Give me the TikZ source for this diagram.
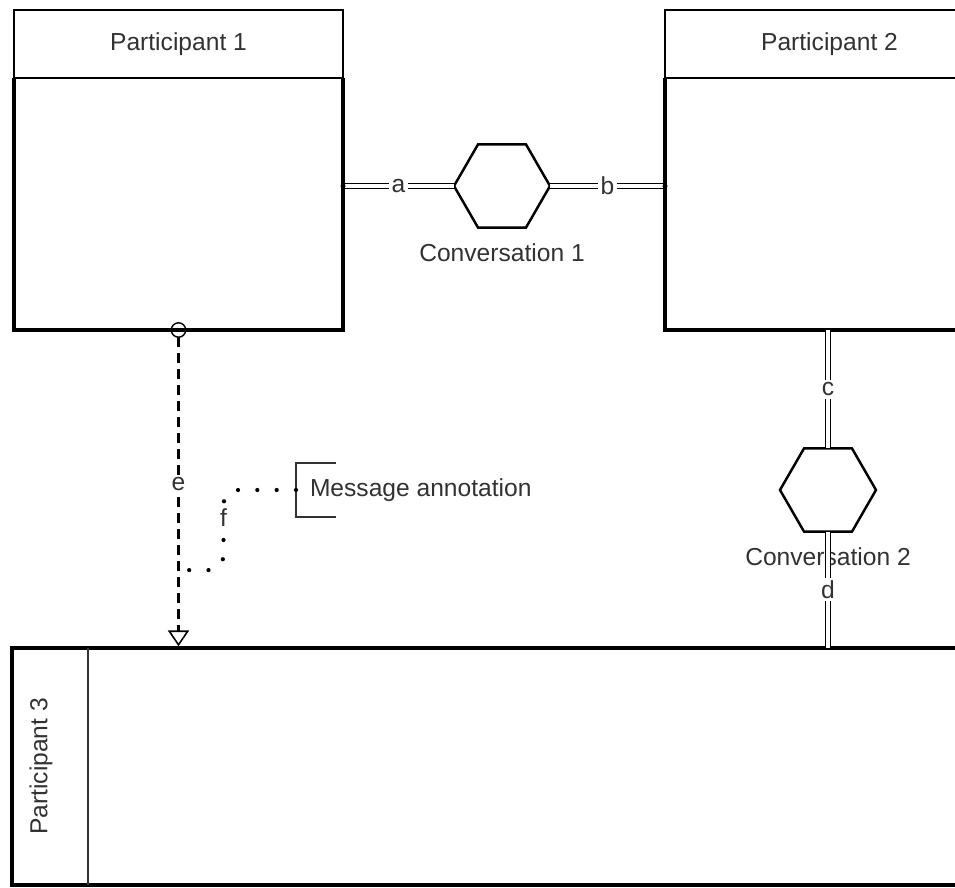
\documentclass[tikz,border=0pt]{standalone}
\usepackage{fontspec}
\setmainfont{Liberation Sans}
\usepackage{xcolor}
\usepackage{tikz}
\usetikzlibrary{positioning, quotes}
\usetikzlibrary{arrows.meta,shapes,calc}
\definecolor{labelgray}{RGB}{50,50,50}

\begin{document}
\begin{tikzpicture}
        [
        every node/.style = {font=\fontsize{14}{16}\selectfont, text=labelgray, inner sep=0pt, outer sep=0pt},
        every edge quotes/.style = {fill=white, inner sep=1.5pt},
        header/.style = {draw, line width=1.4pt, anchor=north west, minimum width=6.58cm, minimum height=1.36cm},
        body/.style = {minimum width=6.58cm, minimum height=5.04cm},
        pool/.style = {line width=2.6pt},
        conv/.style = {draw, regular polygon, regular polygon sides=6, minimum size=1.92cm, line width=1.4pt},
        convlink/.style = {draw, double=white, double distance=2.4pt, line width=0.7pt},
        msgflow/.style = {draw, line width=1.3pt, dash pattern=on 5.7pt off 3.4pt,
            arrows={Circle[open, length=9pt, line width=0.8pt]-Triangle[open, length=9pt, width=12pt, line width=0.9pt]}},
        assoc/.style = {line width=2.4pt, line cap=round, dash pattern=on 0pt off 11pt}
        ]
    \useasboundingbox (0,0) rectangle (19.1,-17.76);
    \clip (0,0) rectangle (19.1,-17.76);

    \node[header] (p1head) at (0.28,-0.2) {Participant 1};
    \node[body, below=0pt of p1head] (p1) {};
    \node[header] (p2head) at (13.3,-0.2) {Participant 2};
    \node[body, below=0pt of p2head] (p2) {};
    \node[draw, pool, anchor=north west, minimum width=20cm, minimum height=4.74cm] (p3) at (0.24,-12.96) {};
    \node[rotate=90, anchor=north west, minimum width=4.74cm, minimum height=1.52cm] (p3head) at (p3.south west) {};
    \node[rotate=90] (p3lbl) at ([xshift=-0.18cm]p3head.center) {Participant 3};

    \node[conv] (conv1) at (10.04,-3.72) {};
    \node[below=0.32cm of conv1] (conv1lbl) {Conversation 1};
    \node[conv] (conv2) at (16.56,-9.8) {};
    \node[below=0.32cm of conv2] (conv2lbl) {Conversation 2};

    \node[anchor=west, minimum height=1.08cm, inner xsep=0.28cm] (note) at (5.92,-9.8) {Message annotation};

    \draw[pool] (p1.north west) |- (p1.south east) -- (p1.north east);
    \draw[pool] (p2.north east) |- (p2.south west) -- (p2.north west);
    \draw[line width=1pt, labelgray] (p3head.south west) -- (p3head.south east);

    \path (conv1.west -| p1.east) edge[convlink, "a"] (conv1.west);
    \path (conv1.east) edge[convlink, "b"] (conv1.east -| p2.west);
    \path (conv2.north |- p2.south) edge[convlink, "c"] (conv2.north);
    \path (conv2.south) edge[convlink, "d"] (conv2.south |- p3.north);
    \fill (conv1.west -| p1.east) circle (0.05);
    \fill (conv1.east -| p2.west) circle (0.05);

    \coordinate (ebot) at (p1.south |- p3.north);
    \coordinate (fend) at ($(p1.south)!0.755!(ebot)$);
    \path ([yshift=4.5pt]p1.south) edge[msgflow, "e"] ([yshift=1pt]ebot);

    \draw[line width=1pt, labelgray] ([xshift=0.8cm]note.north west) -- (note.north west)
        -- (note.south west) -- ([xshift=0.8cm]note.south west);
    \draw[assoc, rounded corners=0.3cm] (note.west) -| node[fill=white, inner sep=1.5pt, pos=0.67] {f}
        ($(fend)+(0.9,0)$) -- (fend);
\end{tikzpicture}
\end{document}
